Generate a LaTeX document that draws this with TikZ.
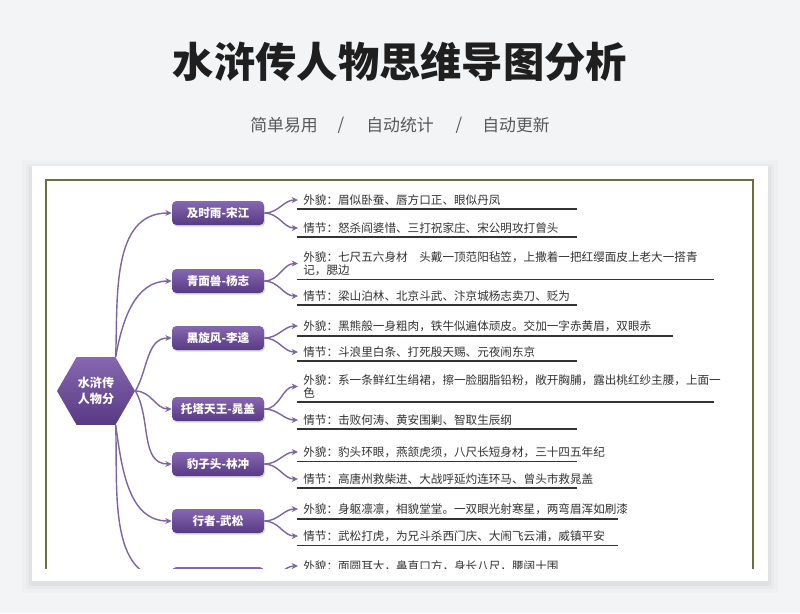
\documentclass[tikz,border=0pt]{standalone}
\usepackage{fontspec}
\setmainfont{Noto Sans CJK SC}
\usetikzlibrary{arrows.meta, shapes.geometric, shadows, calc, positioning}

\definecolor{pagebg}{HTML}{F3F4F6}
\definecolor{frameol}{HTML}{6E6E45}
\definecolor{lilac}{HTML}{7D65A3}
\definecolor{plumtop}{HTML}{8668B0}
\definecolor{plumbot}{HTML}{583A84}
\definecolor{inkgray}{HTML}{333333}

\tikzset{
  person/.style={rounded corners=2.5pt, top color=plumtop, bottom color=plumbot, text=white,
    font=\bfseries\fontsize{6.6}{8}\selectfont, minimum width=1.84cm, minimum height=0.48cm,
    drop shadow={opacity=0.3, shadow xshift=0.6pt, shadow yshift=-0.9pt}},
  hubnode/.style={regular polygon, regular polygon sides=6, minimum size=1.56cm, inner sep=0pt,
    top color=plumtop, bottom color=plumbot, text=white, align=center,
    font=\bfseries\fontsize{6.9}{9.5}\selectfont},
  note/.style={anchor=west, inner xsep=0pt, inner ysep=1.5pt, align=left, text=inkgray,
    font=\fontsize{6.6}{7.4}\selectfont},
  link/.style={lilac, line width=0.8pt, -{Stealth[length=3.6pt, width=3.4pt]}},
  uline/.style={black!80, line width=1.1pt},
  tag/.style={text=black!65, font=\fontsize{9.6}{11}\selectfont}
}

\begin{document}
\begin{tikzpicture}[x=0.02cm, y=-0.02cm]
  % page and card
  \fill[pagebg] (0,0) rectangle (800,613);
  \useasboundingbox (0,0) rectangle (800,613);
  \foreach \g/\o in {10/0.015, 6/0.025, 3/0.035}
    \fill[black, opacity=\o] (32-\g,166-\g+4) rectangle (768+\g,581+\g+2);
  \fill[white] (32,166) rectangle (768,581);

  % heading
  \node[font=\bfseries\fontsize{23.5}{28}\selectfont, text=black!88] (title) at (400,62) {水浒传人物思维导图分析};
  \node[tag] (tagA) at (284,125) {简单易用};
  \node[tag] (slashA) at (341,125) {/};
  \node[tag] (tagB) at (400,125) {自动统计};
  \node[tag] (slashB) at (459,125) {/};
  \node[tag] (tagC) at (516,125) {自动更新};

  \begin{scope}
    \clip (44,178) rectangle (756,568);
    \draw[frameol, line width=1.1pt] (46,180) rectangle (753,640);

    % centre
    \node[hubnode] (H) at (96,391) {水浒传\\人物分};

    % characters
    \node[person] (P1) at (218,213) {及时雨-宋江};
    \node[person] (P2) at (218,281) {青面兽-杨志};
    \node[person] (P3) at (218,338) {黑旋风-李逵};
    \node[person] (P4) at (218,409) {托塔天王-晁盖};
    \node[person] (P5) at (218,464) {豹子头-林冲};
    \node[person] (P6) at (218,521) {行者-武松};
    \node[person] (P7) at (218,579) {};

    % looks
    \node[note] (L1) at (303,200) {外貌：眉似卧蚕、唇方口正、眼似丹凤};
    \node[note] (L2) at (303,263.5) {外貌：七尺五六身材　头戴一顶范阳毡笠，上撒着一把红缨面皮上老大一搭青\\记，腮边};
    \node[note] (L3) at (303,326) {外貌：黑熊般一身粗肉，铁牛似遍体顽皮。交加一字赤黄眉，双眼赤};
    \node[note] (L4) at (303,386.5) {外貌：系一条鲜红生绢裙，擦一脸胭脂铅粉，敞开胸脯，露出桃红纱主腰，上面一\\色};
    \node[note] (L5) at (303,452) {外貌：豹头环眼，燕颔虎须，八尺长短身材，三十四五年纪};
    \node[note] (L6) at (303,509) {外貌：身躯凛凛，相貌堂堂。一双眼光射寒星，两弯眉浑如刷漆};
    \node[note] (L7) at (303,566) {外貌：面圆耳大，鼻直口方，身长八尺，腰阔十围};

    % plots
    \node[note] (S1) at (303,228) {情节：怒杀阎婆惜、三打祝家庄、宋公明攻打曾头};
    \node[note] (S2) at (303,296) {情节：梁山泊林、北京斗武、汴京城杨志卖刀、贬为};
    \node[note] (S3) at (303,352) {情节：斗浪里白条、打死殷天赐、元夜闹东京};
    \node[note] (S4) at (303,420) {情节：击败何涛、黄安围剿、智取生辰纲};
    \node[note] (S5) at (303,479) {情节：高唐州救柴进、大战呼延灼连环马、曾头市救晁盖};
    \node[note] (S6) at (303,536) {情节：武松打虎，为兄斗杀西门庆、大闹飞云浦，威镇平安};

    % underlines
    \foreach \n/\len in {L1/280, S1/280, L2/417, S2/280, L3/376, S3/280, L4/417, S4/280,
                         L5/280, S5/280, L6/321, S6/321}
      \draw[uline] (\n.south west) ++(-6,1) -- ++(\len,0);

    % hub to characters
    \draw[link] (H.60) to[out=88, in=180] (P1.west);
    \draw[link] (H.60) to[out=80, in=180] (P2.west);
    \draw[link] (H.0) to[out=60, in=180] (P3.west);
    \draw[link] (H.0) to[out=0, in=180] (P4.west);
    \draw[link] (H.0) to[out=-60, in=180] (P5.west);
    \draw[link] (H.-60) to[out=-82, in=180] (P6.west);
    \draw[link] (H.-60) to[out=-88, in=180] (P7.west);

    % characters to notes
    \foreach \i in {1,...,7}
      \draw[link] (P\i.east) to[out=0, in=180] ($(L\i.west)+(-5,0)$);
    \foreach \i in {1,...,6}
      \draw[link] (P\i.east) to[out=0, in=180] ($(S\i.west)+(-5,0)$);
  \end{scope}
\end{tikzpicture}
\end{document}
